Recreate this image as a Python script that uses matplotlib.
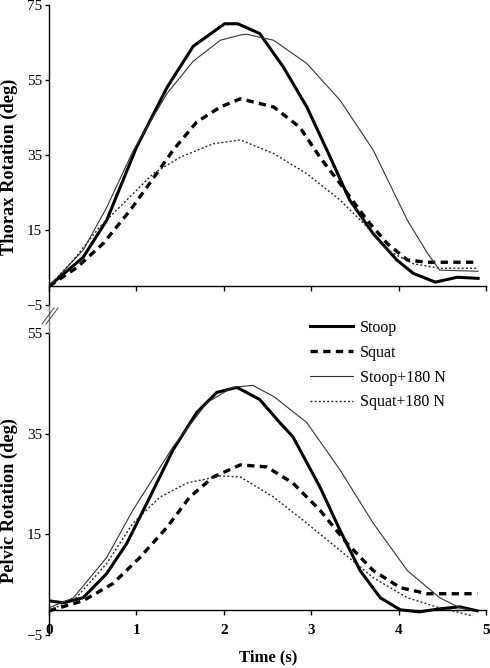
import numpy as np
import matplotlib
matplotlib.use('Agg')
from matplotlib import pyplot as plt
from matplotlib.lines import Line2D

plt.rcParams['font.family'] = ['Liberation Serif', 'DejaVu Serif']

# ----- date -----
# Thorax (panou sus)
t_th_stoop = [0, 0.39, 0.66, 1.0, 1.35, 1.65, 2.01, 2.16, 2.41, 2.68, 2.95, 3.18, 3.44, 3.71, 3.98, 4.17, 4.42, 4.67, 4.91]
v_th_stoop = [0, 7.7, 17.6, 37, 53, 64, 70, 70, 67.4, 58.5, 47.8, 36.3, 23, 14, 7, 3.4, 1.1, 2.4, 2.1]

t_th_squat = [0, 0.32, 0.62, 0.93, 1.12, 1.42, 1.69, 1.96, 2.19, 2.57, 2.87, 3.1, 3.33, 3.64, 3.87, 4.1, 4.33, 4.91]
v_th_squat = [0, 5, 11.4, 20.3, 26.4, 36.3, 43.8, 47.8, 50, 47.8, 42.4, 34.4, 27.4, 17.6, 11.4, 7, 6.4, 6.4]

t_th_stoop180 = [0, 0.39, 0.66, 0.96, 1.35, 1.65, 1.96, 2.19, 2.26, 2.57, 2.95, 3.33, 3.71, 4.1, 4.33, 4.47, 4.91]
v_th_stoop180 = [0, 9.6, 21, 36, 51.4, 60, 65.6, 67, 67.2, 65.6, 59.4, 49.6, 36.3, 17.6, 8.8, 4.3, 4]

t_th_squat180 = [0, 0.28, 0.58, 0.89, 1.19, 1.5, 1.88, 2.19, 2.57, 2.95, 3.33, 3.64, 3.87, 4.17, 4.47, 4.91]
v_th_squat180 = [0, 7, 15.8, 23, 30, 34.4, 38, 39, 35.4, 30, 23, 15.8, 9.6, 6, 4.8, 4.8]

# Pelvis (panou jos)
t_pe_stoop = [0, 0.16, 0.39, 0.66, 0.89, 1.12, 1.42, 1.69, 1.92, 2.15, 2.41, 2.64, 2.79, 3.1, 3.33, 3.56, 3.79, 4.02, 4.24, 4.47, 4.7, 4.9]
v_pe_stoop = [1.8, 1.4, 2.4, 7.2, 13.2, 21.2, 31.8, 39.2, 43.2, 44.2, 41.8, 37.2, 34.4, 24.4, 15.8, 7.8, 2.4, 0, -0.4, 0.2, 0.6, -0.2]

t_pe_squat = [0, 0.39, 0.73, 1.04, 1.35, 1.61, 1.88, 2.19, 2.49, 2.79, 3.1, 3.41, 3.71, 4.02, 4.33, 4.9]
v_pe_squat = [-0.2, 1.8, 5.2, 10.4, 16.4, 22.4, 26.4, 28.8, 28.4, 25.2, 19.8, 13.2, 7.8, 4.4, 3.2, 3.2]

t_pe_stoop180 = [0, 0.28, 0.66, 0.96, 1.42, 1.81, 2.1, 2.33, 2.57, 2.95, 3.33, 3.71, 4.1, 4.47, 4.7, 4.9]
v_pe_stoop180 = [0.4, 2.4, 10.4, 19.8, 32.4, 41.2, 44.2, 44.6, 42.4, 37.2, 27.8, 17.2, 7.8, 2.4, 0.4, -0.2]

t_pe_squat180 = [0, 0.28, 0.66, 0.96, 1.27, 1.58, 1.96, 2.19, 2.57, 2.95, 3.33, 3.71, 4.1, 4.47, 4.85]
v_pe_squat180 = [0, 1.8, 9.2, 17.2, 22.4, 25.2, 26.6, 26.4, 22.4, 17.2, 11.8, 6.4, 2.4, 0.4, -1.2]

labels = ['Stoop', 'Squat', 'Stoop+180 N', 'Squat+180 N']
x_ticks = [0, 1, 2, 3, 4, 5]
y_ticks_top = [-5, 15, 35, 55, 75]
y_ticks_bot = [-5, 15, 35, 55]

# stiluri
stiluri = [
    dict(color='black', lw=2.2, ls='-'),
    dict(color='black', lw=2.4, ls=(0, (2.2, 1.6))),
    dict(color='#333333', lw=0.8, ls='-'),
    dict(color='#222222', lw=1.0, ls=(0, (1.4, 1.6))),
]

W, H = 490, 668
fig = plt.figure(figsize=(W / 100, H / 100), dpi=100)

def px(x0, y0, x1, y1):
    return [x0 / W, 1 - y1 / H, (x1 - x0) / W, (y1 - y0) / H]

ax1 = fig.add_axes(px(49, 5, 486, 305))
ax2 = fig.add_axes(px(49, 333, 486, 635))

date_top = [(t_th_stoop, v_th_stoop), (t_th_squat, v_th_squat),
            (t_th_stoop180, v_th_stoop180), (t_th_squat180, v_th_squat180)]
date_bot = [(t_pe_stoop, v_pe_stoop), (t_pe_squat, v_pe_squat),
            (t_pe_stoop180, v_pe_stoop180), (t_pe_squat180, v_pe_squat180)]

for ax, date, yt, ylim in [(ax1, date_top, y_ticks_top, (-5, 75)),
                           (ax2, date_bot, y_ticks_bot, (-5, 55))]:
    for (t, v), st, lab in zip(date, stiluri, labels):
        ax.plot(t, v, label=lab, **st)
    ax.set_xlim(0, 5)
    ax.set_ylim(*ylim)
    ax.set_yticks(yt)
    ax.set_xticks(x_ticks)
    ax.spines['top'].set_visible(False)
    ax.spines['right'].set_visible(False)
    ax.spines['bottom'].set_position(('data', 0))
    ax.spines['left'].set_linewidth(1.0)
    ax.spines['bottom'].set_linewidth(1.0)
    ax.tick_params(axis='y', direction='out', length=3, width=1, pad=2, labelsize=11)
    ax.tick_params(axis='x', direction='out', length=3.5, width=1)
    ax.patch.set_alpha(0)

ax1.set_xticklabels([])
ax2.tick_params(axis='x', pad=7, labelsize=11)
for lb in ax2.get_xticklabels():
    lb.set_fontweight('bold')

ax1.set_ylabel('Thorax Rotation (deg)', fontsize=13.2, fontweight='bold')
ax1.yaxis.set_label_coords(-0.072, 0.46)
ax2.set_ylabel('Pelvic Rotation (deg)', fontsize=13.2, fontweight='bold')
ax2.yaxis.set_label_coords(-0.072, 0.444)
fig.text(268 / W, 1 - 657 / H, 'Time (s)', ha='center', va='center',
         fontsize=12, fontweight='bold')

# legatura axei stangi si semnul de intrerupere //
fig.add_artist(Line2D([49 / W, 49 / W], [1 - 305 / H, 1 - 333 / H],
                      color='#777777', lw=1.0))
for dx in (0, 4):
    fig.add_artist(Line2D([(42 + dx) / W, (54 + dx) / W],
                          [1 - 324 / H, 1 - 308 / H], color='#555555', lw=0.8))

handles, _ = ax2.get_legend_handles_labels()
ax2.legend(handles, labels, loc='upper left', frameon=False, fontsize=11.5,
           bbox_to_anchor=(310 / W, 1 - 320 / H), bbox_transform=fig.transFigure,
           borderpad=0, borderaxespad=0, handlelength=2.7, handletextpad=0.4,
           labelspacing=0.55)

fig.savefig('out.png', dpi=100)
